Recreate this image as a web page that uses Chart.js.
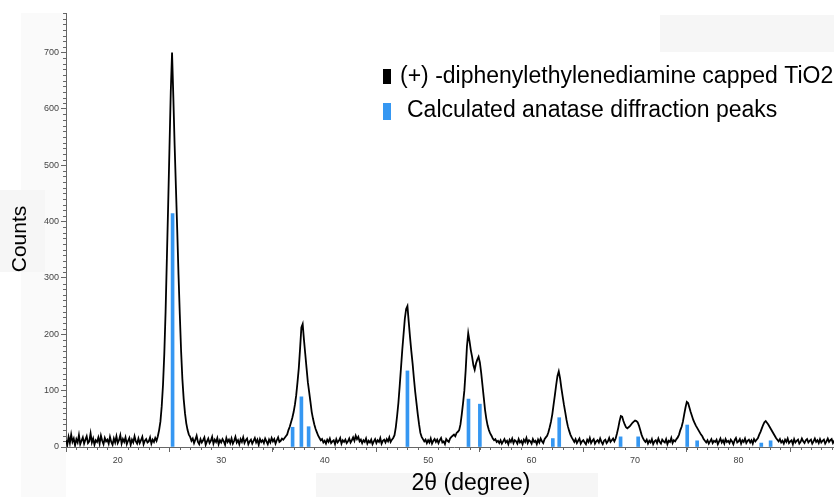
<!DOCTYPE html>
<html><head><meta charset="utf-8">
<script src="https://cdn.jsdelivr.net/npm/chart.js@4.4.1/dist/chart.umd.min.js"></script>
<style>
html,body{margin:0;padding:0;background:#fff;overflow:hidden;width:834px;height:497px;}
#wrap{position:absolute;left:0;top:0;width:860px;height:497px;}
</style></head><body>
<div id="wrap"><canvas id="c" width="860" height="497"></canvas></div>
<script>
// XRD scan: 2theta from scanStart in steps of scanStep (one row = one degree)
const scanStart = 15, scanStep = 0.125;
const counts = [
 12, 4, 18, 7, 22, 9, 15, 3,        // 15
 14, 8, 21, 5, 11, 17, 6, 13,       // 16
 19, 7, 10, 24, 8, 15, 4, 12,       // 17
 9, 17, 6, 20, 11, 5, 16, 10,       // 18
 13, 6, 18, 9, 4, 15, 8, 19,        // 19
 7, 12, 21, 6, 14, 9, 17, 5,        // 20
 11, 16, 4, 13, 8, 19, 10, 6,       // 21
 15, 7, 12, 18, 5, 11, 14, 8,       // 22
 10, 17, 6, 13, 9, 16, 11, 19,      // 23
 30, 45, 72, 110, 165, 240, 335, 430,     // 24
 530, 630, 700, 620, 535, 460, 385, 305,  // 25
 235, 170, 120, 85, 60, 42, 30, 22,       // 26
 18, 11, 15, 7, 13, 20, 9, 5,       // 27
 14, 8, 12, 17, 4, 10, 15, 7,       // 28
 11, 18, 6, 13, 9, 16, 5, 12,       // 29
 8, 14, 10, 4, 16, 9, 13, 7,        // 30
 15, 6, 11, 18, 8, 12, 5, 14,       // 31
 9, 17, 7, 12, 15, 5, 10, 13,       // 32
 6, 11, 16, 8, 13, 4, 14, 9,        // 33
 12, 7, 15, 10, 5, 13, 8, 16,       // 34
 10, 14, 6, 12, 17, 9, 11, 15,      // 35
 13, 16, 19, 22, 30, 36, 44, 52,    // 36
 62, 75, 92, 115, 140, 175, 212, 218,     // 37
 190, 165, 140, 115, 98, 80, 62, 50,      // 38
 40, 32, 26, 20, 16, 12, 14, 8,     // 39
 11, 6, 13, 9, 15, 7, 10, 12,       // 40
 5, 14, 8, 11, 16, 6, 12, 9,        // 41
 13, 7, 10, 15, 8, 12, 17, 11,      // 42
 20, 14, 18, 10, 13, 7, 12, 9,      // 43
 15, 6, 11, 8, 13, 5, 10, 14,       // 44
 7, 12, 9, 16, 6, 11, 13, 8,        // 45
 14, 10, 17, 9, 13, 16, 21, 35,     // 46
 55, 78, 108, 140, 172, 200, 228, 245,    // 47
 250, 222, 195, 170, 148, 122, 98, 78,    // 48
 58, 40, 25, 18, 14, 10, 13, 7,     // 49
 12, 8, 15, 6, 11, 14, 9, 13,       // 50
 7, 12, 16, 8, 10, 5, 14, 11,       // 51
 9, 15, 18, 20, 22, 19, 25, 27,     // 52
 30, 40, 58, 78, 100, 135, 178, 202,      // 53
 188, 172, 160, 145, 137, 148, 155, 160,  // 54
 150, 132, 110, 88, 66, 50, 38, 30,       // 55
 24, 20, 15, 12, 14, 9, 11, 7,      // 56
 12, 6, 10, 14, 8, 11, 5, 13,       // 57
 9, 15, 7, 12, 10, 6, 14, 8,        // 58
 11, 5, 13, 9, 16, 7, 12, 10,       // 59
 6, 14, 9, 11, 5, 13, 8, 15,        // 60
 10, 7, 14, 17, 20, 26, 35, 45,     // 61
 58, 75, 92, 110, 126, 134, 122, 105,     // 62
 90, 75, 62, 48, 37, 29, 22, 17,    // 63
 13, 9, 14, 7, 11, 15, 6, 10,       // 64
 12, 8, 5, 13, 9, 16, 7, 11,        // 65
 14, 6, 10, 12, 8, 15, 9, 5,        // 66
 11, 13, 7, 10, 16, 9, 12, 15,      // 67
 10, 15, 24, 34, 46, 55, 54, 46,    // 68
 40, 35, 33, 35, 37, 40, 43, 45,    // 69
 47, 46, 44, 38, 30, 22, 16, 12,    // 70
 9, 13, 6, 11, 8, 14, 5, 10,        // 71
 12, 7, 15, 9, 6, 13, 10, 8,        // 72
 14, 5, 11, 9, 16, 7, 12, 10,       // 73
 14, 17, 22, 30, 36, 45, 58, 70,    // 74
 80, 78, 70, 62, 55, 48, 43, 38,    // 75
 34, 30, 26, 22, 19, 14, 11, 8,     // 76
 12, 6, 10, 14, 7, 11, 9, 13,       // 77
 5, 10, 15, 8, 12, 6, 14, 9,        // 78
 11, 7, 13, 10, 5, 12, 16, 8,       // 79
 10, 14, 6, 12, 9, 15, 7, 11,       // 80
 13, 8, 12, 6, 14, 10, 13, 16,      // 81
 22, 27, 33, 39, 44, 46, 43, 40,    // 82
 36, 32, 28, 24, 20, 16, 13, 10,    // 83
 14, 8, 11, 6, 13, 9, 15, 7,        // 84
 10, 12, 5, 14, 8, 11, 13, 6,       // 85
 9, 15, 10, 7, 12, 14, 8, 11,       // 86
 13, 6, 10, 15, 9, 12, 7, 14,       // 87
 8, 11, 13, 6, 10, 15, 9, 12,       // 88
 14, 7, 11, 9, 13, 6, 12, 10,       // 89
 9                                  // 90
];
// Calculated anatase reflections
const peakAngles = [25.3, 36.9, 37.75, 38.45, 48.0, 53.9, 55.0, 62.05, 62.67, 68.6, 70.3, 75.04, 76.0, 82.2, 83.1];
const peakCounts = [414, 35, 89, 36, 135, 85, 76, 15, 52, 18, 18, 39, 11, 7, 11];
const xTickValues = [20, 30, 40, 50, 60, 70, 80, 90];
const yTickValues = [0, 100, 200, 300, 400, 500, 600, 700];
const seriesLabels = ['(+) -diphenylethylenediamine capped TiO2', 'Calculated anatase diffraction peaks'];

const scanPoints = counts.map((c, i) => ({x: scanStart + i * scanStep, y: c}));
const peakPoints = peakAngles.map((a, i) => ({x: a, y: peakCounts[i]}));

const FONT = '"Liberation Sans", Arial, Helvetica, sans-serif';
const BLUE = '#3597f2';

const decor = {
  id: 'decor',
  beforeDraw(chart) {
    const ctx = chart.ctx;
    ctx.save();
    ctx.fillStyle = '#fafafa';
    ctx.fillRect(21, 13, 45, 484);
    ctx.fillStyle = '#f6f6f6';
    ctx.fillRect(0, 190, 45, 82);
    ctx.fillRect(660, 15, 200, 37);
    ctx.fillRect(316, 473, 282, 24);
    ctx.restore();
  },
  afterDraw(chart) {
    const ctx = chart.ctx, xs = chart.scales.x, ys = chart.scales.y;
    const a = chart.chartArea;
    ctx.save();
    ctx.strokeStyle = '#666';
    ctx.lineWidth = 1;
    ctx.beginPath();
    for (let v = 10; v <= 770; v += 10) {
      if (v % 100 === 0) continue;
      const y = Math.round(ys.getPixelForValue(v)) + 0.5;
      ctx.moveTo(a.left - 3, y); ctx.lineTo(a.left, y);
    }
    for (let v = 16; v <= 90; v += 1) {
      if (v % 10 === 0) continue;
      const x = Math.round(xs.getPixelForValue(v)) + 0.5;
      ctx.moveTo(x, a.bottom); ctx.lineTo(x, a.bottom + 3);
    }
    ctx.stroke();

    // axis titles
    ctx.fillStyle = '#000';
    ctx.textAlign = 'center';
    ctx.textBaseline = 'middle';
    ctx.font = '21px ' + FONT;
    ctx.save();
    ctx.translate(20, 239);
    ctx.rotate(-Math.PI / 2);
    ctx.fillText('Counts', 0, 0);
    ctx.restore();
    ctx.font = '23px ' + FONT;
    ctx.fillText('2θ (degree)', 471, 484);

    // legend
    const ds = chart.data.datasets;
    ctx.textAlign = 'left';
    ctx.font = '23px ' + FONT;
    ctx.fillStyle = ds[1].borderColor;
    ctx.fillRect(383, 69, 8, 15);
    ctx.fillStyle = '#000';
    ctx.fillText(seriesLabels[0], 400, 77);
    ctx.fillStyle = ds[0].backgroundColor;
    ctx.fillRect(383, 103, 8, 17);
    ctx.fillStyle = '#000';
    ctx.fillText(seriesLabels[1], 407, 111);
    ctx.restore();
  }
};

new Chart(document.getElementById('c'), {
  type: 'line',
  data: {
    datasets: [
      {
        type: 'bar',
        label: seriesLabels[1],
        data: peakPoints,
        backgroundColor: BLUE,
        borderWidth: 0,
        barThickness: 3,
        order: 0
      },
      {
        type: 'line',
        label: seriesLabels[0],
        data: scanPoints,
        borderColor: '#000',
        borderWidth: 1.8,
        pointRadius: 0,
        tension: 0,
        fill: false,
        order: 1
      }
    ]
  },
  options: {
    responsive: false,
    animation: false,
    devicePixelRatio: 1,
    layout: {padding: {left: 0, top: 13, right: 18, bottom: 0}},
    plugins: {legend: {display: false}, tooltip: {enabled: false}},
    scales: {
      x: {
        type: 'linear', min: 15, max: 90, offset: false,
        afterBuildTicks(s) { s.ticks = xTickValues.map(v => ({value: v})); },
        afterFit(s) { s.height = 50; },
        grid: {display: true, drawOnChartArea: false, drawTicks: true, tickLength: 5, tickColor: '#666'},
        border: {display: true, color: '#666', width: 1},
        ticks: {font: {family: FONT, size: 9}, color: '#444', padding: 3, maxRotation: 0, autoSkip: false}
      },
      y: {
        type: 'linear', min: 0, max: 770,
        afterBuildTicks(s) { s.ticks = yTickValues.map(v => ({value: v})); },
        afterFit(s) { s.width = 66; },
        grid: {display: true, drawOnChartArea: false, drawTicks: true, tickLength: 5, tickColor: '#666'},
        border: {display: true, color: '#666', width: 1},
        ticks: {font: {family: FONT, size: 9}, color: '#444', padding: 2}
      }
    }
  },
  plugins: [decor]
});
</script>
</body></html>
